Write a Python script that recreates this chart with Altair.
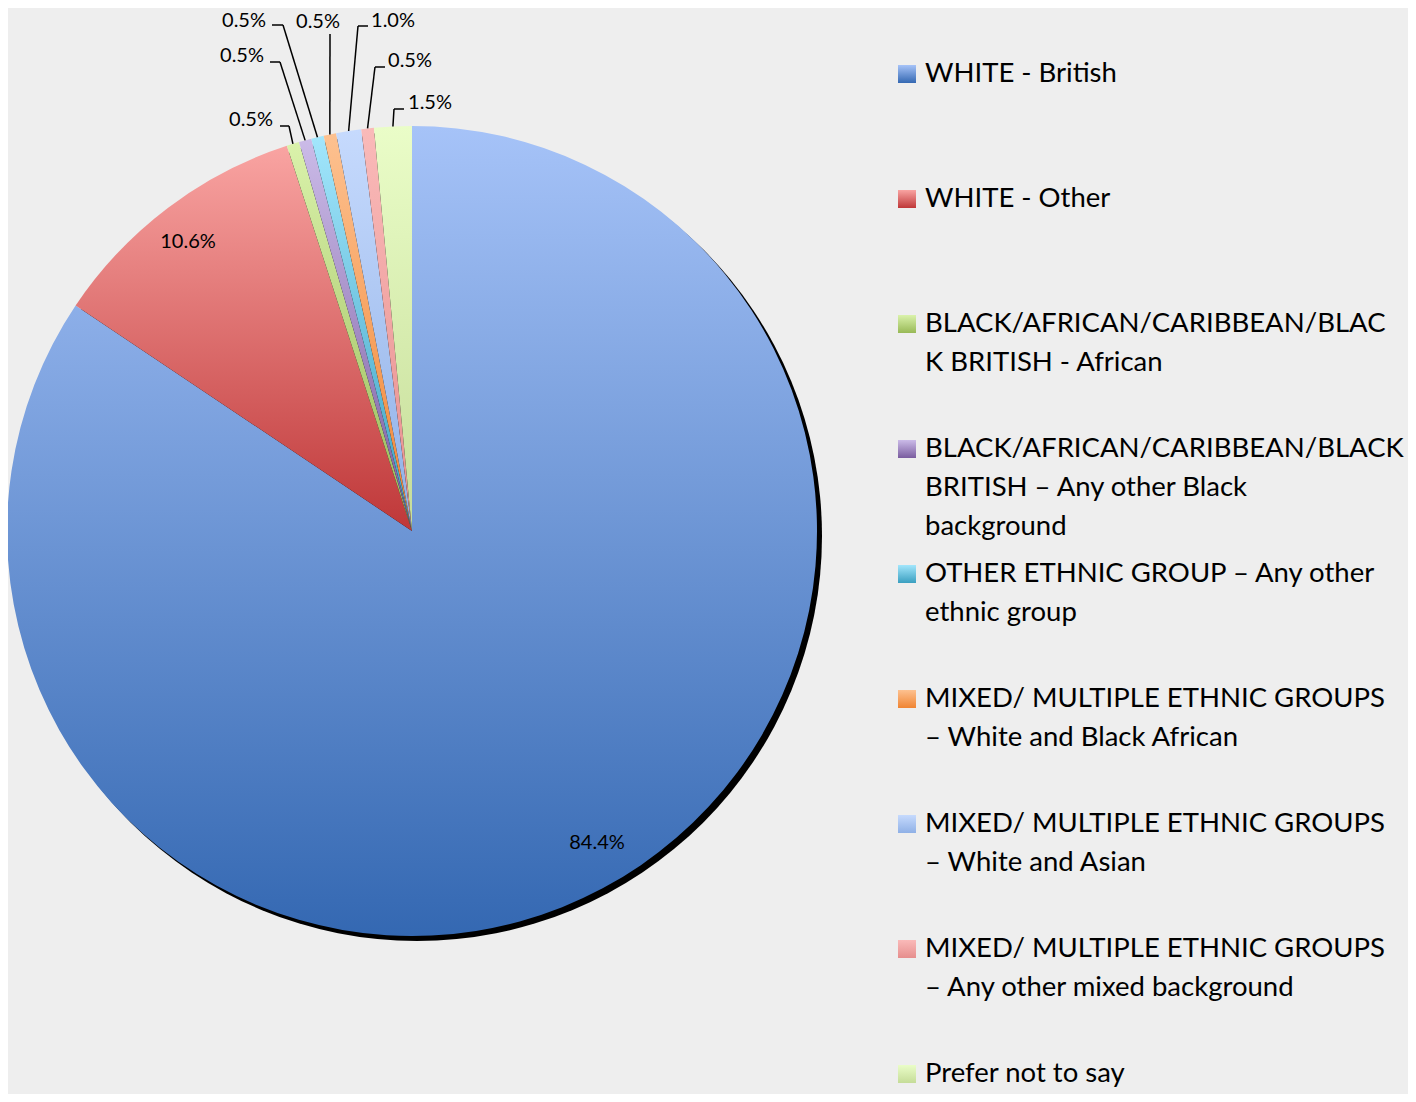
import math
import altair as alt
import pandas as pd

# ---------------- data ----------------
categories = [
    "WHITE - British",
    "WHITE - Other",
    "BLACK/AFRICAN/CARIBBEAN/BLACK BRITISH - African",
    "BLACK/AFRICAN/CARIBBEAN/BLACK BRITISH – Any other Black background",
    "OTHER ETHNIC GROUP – Any other ethnic group",
    "MIXED/ MULTIPLE ETHNIC GROUPS – White and Black African",
    "MIXED/ MULTIPLE ETHNIC GROUPS – White and Asian",
    "MIXED/ MULTIPLE ETHNIC GROUPS – Any other mixed background",
    "Prefer not to say",
]
values = [84.4, 10.6, 0.5, 0.5, 0.5, 0.5, 1.0, 0.5, 1.5]
legend_labels = [
    "WHITE - British",
    "WHITE - Other",
    "BLACK/AFRICAN/CARIBBEAN/BLAC\nK BRITISH - African",
    "BLACK/AFRICAN/CARIBBEAN/BLACK\nBRITISH – Any other Black\nbackground",
    "OTHER ETHNIC GROUP – Any other\nethnic group",
    "MIXED/ MULTIPLE ETHNIC GROUPS\n– White and Black African",
    "MIXED/ MULTIPLE ETHNIC GROUPS\n– White and Asian",
    "MIXED/ MULTIPLE ETHNIC GROUPS\n– Any other mixed background",
    "Prefer not to say",
]

# ---------------- styles ----------------
grad_top = ["#a6c3f8", "#f9a4a2", "#daf2ab", "#cbbbe8", "#a2e6fc", "#fdc190", "#c6dafd", "#fabab9", "#eafdc8"]
grad_bottom = ["#3468b2", "#bf3738", "#98b956", "#7a5c9f", "#3a9fc0", "#f08432", "#8fb0e6", "#e68e8d", "#c5dc98"]

# ---------------- layout (page pixels) ----------------
MARGIN = 8
W, H = 1416 - 2 * MARGIN, 1102 - 2 * MARGIN
CX, CY, R = 412, 531, 405
SHADOW = 5
FONT = "Lato"
# label layout: text centre, elbow point, tick end (leaders only for outside labels)
text_x = [597, 188, 251, 242, 244, 318, 393, 410, 430]
text_y = [843, 242, 120, 56, 20.5, 22, 21, 61, 103]
elbow_x = [None, None, 289, 280, 283, 330, 358, 375, 394]
elbow_y = [None, None, 126, 62, 25, 34, 26, 67, 109]
tick_x = [None, None, 280, 270, 272, 330, 368, 385, 404]
tick_y = [None, None, 126, 62, 25, 34, 26, 67, 109]
LEG_SYM_X, LEG_TEXT_X, LEG_Y0, LEG_STEP, LEG_LINE = 907, 925, 74, 125, 39

df = pd.DataFrame({
    "cat": categories, "value": values, "order": list(range(len(values))),
    "tx": text_x, "ty": text_y, "elx": elbow_x, "ely": elbow_y,
    "tkx": tick_x, "tky": tick_y,
})

rows = []
for i, lab in enumerate(legend_labels):
    for j, line in enumerate(lab.split("\n")):
        rows.append({"idx": i, "line": j, "text": line})
leg_df = pd.DataFrame(rows)

xs = alt.Scale(domain=[MARGIN, MARGIN + W], range=[0, W])
ys = alt.Scale(domain=[MARGIN, MARGIN + H], range=[0, H])
ts = alt.Scale(domain=[0, 100], range=[0, 2 * math.pi])

base = alt.Chart(df).transform_window(
    cum="sum(value)", sort=[alt.SortField("order")], frame=[None, 0]
).transform_calculate(
    start="datum.cum - datum.value",
    label="format(datum.value, '.1f') + '%'",
    ex=f"{CX} + {R} * sin((datum.cum - datum.value / 2) * 2 * PI / 100)",
    ey=f"{CY} - {R} * cos((datum.cum - datum.value / 2) * 2 * PI / 100)",
    sy=f"{LEG_Y0} + {LEG_STEP} * datum.order",
    sx=f"{LEG_SYM_X}",
)

layers = []
shadow = alt.Chart(pd.DataFrame({"a": [0]})).mark_arc(
    theta=0, theta2=2 * math.pi, radius=R, fill="#000000"
).encode(x=alt.value(CX + SHADOW - MARGIN), y=alt.value(CY + SHADOW - MARGIN))
layers.append(shadow)

for i, c in enumerate(categories):
    g = alt.Gradient(
        gradient="linear",
        stops=[alt.GradientStop(color=grad_top[i], offset=0),
               alt.GradientStop(color=grad_bottom[i], offset=1)],
        x1=0, x2=0, y1=0, y2=1,
    )
    sub = base.transform_filter(alt.datum.order == i)
    arc = sub.mark_arc(fill=g, radius=R).encode(
        theta=alt.Theta("start:Q", scale=ts, stack=None),
        theta2="cum:Q",
        x=alt.value(CX - MARGIN), y=alt.value(CY - MARGIN),
    )
    sym = sub.mark_square(fill=g, size=18 * 18, opacity=1).encode(
        x=alt.X("sx:Q", scale=xs, axis=None),
        y=alt.Y("sy:Q", scale=ys, axis=None),
    )
    layers += [arc, sym]

outside = base.transform_filter("isValid(datum.elx)")
lead1 = outside.mark_rule(color="#000000", strokeWidth=1.5).encode(
    x=alt.X("ex:Q", scale=xs, axis=None), y=alt.Y("ey:Q", scale=ys, axis=None),
    x2="elx:Q", y2="ely:Q",
)
lead2 = outside.mark_rule(color="#000000", strokeWidth=1.5).encode(
    x=alt.X("elx:Q", scale=xs, axis=None), y=alt.Y("ely:Q", scale=ys, axis=None),
    x2="tkx:Q", y2="tky:Q",
)
labels = base.mark_text(
    font=FONT, fontSize=20, color="#000000", align="center", baseline="middle"
).encode(
    x=alt.X("tx:Q", scale=xs, axis=None), y=alt.Y("ty:Q", scale=ys, axis=None),
    text="label:N",
)

legend_text = alt.Chart(leg_df).transform_calculate(
    lx=f"{LEG_TEXT_X}",
    ly=f"{LEG_Y0} + {LEG_STEP} * datum.idx + {LEG_LINE} * datum.line",
).mark_text(
    font=FONT, fontSize=27.5, color="#000000", align="left", baseline="middle"
).encode(
    x=alt.X("lx:Q", scale=xs, axis=None), y=alt.Y("ly:Q", scale=ys, axis=None),
    text="text:N",
)

layers += [lead1, lead2, labels, legend_text]

chart = alt.layer(*layers).properties(
    width=W, height=H, autosize=alt.AutoSizeParams(type="none"), padding=0,
    background="#eeeeee",
).configure_view(stroke=None)

chart.save("out.html", embed_options={"renderer": "svg", "actions": False})
